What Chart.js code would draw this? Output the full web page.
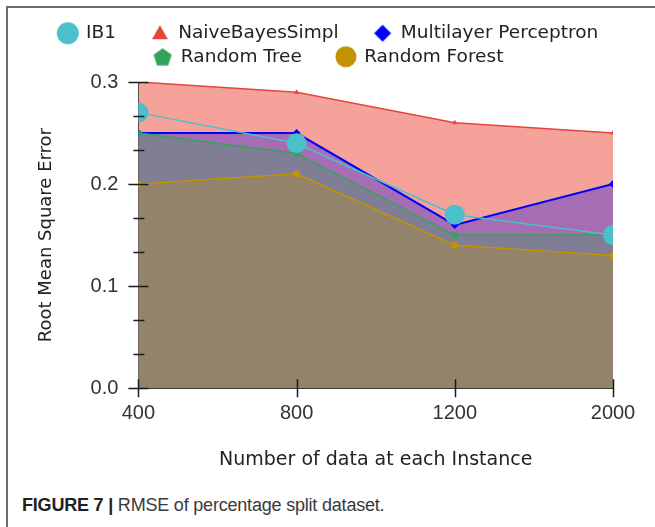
<!DOCTYPE html>
<html>
<head>
<meta charset="utf-8">
<script src="https://cdn.jsdelivr.net/npm/chart.js@4.4.1/dist/chart.umd.min.js"></script>
<style>
  html, body { margin: 0; padding: 0; background: #fff; }
  #frame {
    position: absolute; left: 6px; top: 6px; width: 649px; height: 521px;
    border-top: 2px solid #6e6e6e; border-left: 2px solid #6e6e6e;
  }
  #wrap { position: absolute; left: 8px; top: 8px; width: 647px; height: 470px; }
  #caption {
    position: absolute; left: 22px; top: 495px;
    font-family: "Liberation Sans", Arial, sans-serif; font-size: 18px; color: #3a3a3a;
    letter-spacing: -0.2px;
  }
  #caption b { color: #222; }
</style>
</head>
<body>
<div id="frame"></div>
<div id="wrap"><canvas id="chart"></canvas></div>
<div id="caption"><b>FIGURE 7 |</b> RMSE of percentage split dataset.</div>
<script>
const sizes = ['400', '800', '1200', '2000'];
const ib1 = [0.27, 0.24, 0.17, 0.15];
const naiveBayes = [0.30, 0.29, 0.26, 0.25];
const multilayer = [0.25, 0.25, 0.16, 0.20];
const randomTree = [0.25, 0.23, 0.15, 0.15];
const randomForest = [0.20, 0.21, 0.14, 0.13];
const majorTicks = [0, 0.1, 0.2, 0.3];

const handFont = '"Comic Sans MS", "DejaVu Sans", sans-serif';
const plainFont = '"Liberation Sans", Arial, sans-serif';

// legend markers drawn by hand so their size and the pentagon are right
function marker(kind, color, size) {
    const c = document.createElement('canvas');
    c.width = 56; c.height = 26;
    const g = c.getContext('2d');
    const cx = 43, cy = 13, r = size / 2;
    g.fillStyle = color;
    g.beginPath();
    if (kind === 'circle') {
        g.arc(cx, cy, r, 0, Math.PI * 2);
    } else if (kind === 'triangle') {
        g.moveTo(cx, cy - r); g.lineTo(cx + r, cy + r * 0.75); g.lineTo(cx - r, cy + r * 0.75);
    } else if (kind === 'diamond') {
        g.moveTo(cx, cy - r); g.lineTo(cx + r, cy); g.lineTo(cx, cy + r); g.lineTo(cx - r, cy);
    } else if (kind === 'pentagon') {
        for (let k = 0; k < 5; k++) {
            const a = -Math.PI / 2 + k * 2 * Math.PI / 5;
            g.lineTo(cx + r * Math.cos(a), cy + 1 + r * Math.sin(a));
        }
    }
    g.closePath();
    g.fill();
    return c;
}

function smallPentagon(color) {
    const c = document.createElement('canvas');
    c.width = 8; c.height = 8;
    const g = c.getContext('2d');
    g.fillStyle = color;
    g.beginPath();
    for (let k = 0; k < 5; k++) {
        const a = -Math.PI / 2 + k * 2 * Math.PI / 5;
        g.lineTo(4 + 3.8 * Math.cos(a), 4.4 + 3.8 * Math.sin(a));
    }
    g.closePath();
    g.fill();
    return c;
}

const legendMarkers = [
    marker('circle', '#4bbfca', 22),
    marker('triangle', '#e8453a', 16),
    marker('diamond', '#0000ff', 17),
    marker('pentagon', '#30a55a', 19),
    marker('circle', '#c39200', 21),
];

// legend rows use the whole canvas width (three items on the first row)
// and leave a bit more room under the legend
const legendWide = {
    id: 'legendWide',
    beforeInit(chart) {
        const legend = chart.legend;
        const fit = legend.fit;
        const draw = legend.draw;
        legend.fit = function () {
            this.maxWidth = chart.width - 8;
            fit.call(this);
            this.height += 6;
        };
        legend.draw = function () {
            const l = this.left, r = this.right;
            this.left = 0; this.right = chart.width - 36;
            draw.call(this);
            this.left = l; this.right = r;
        };
    }
};

const crossTicks = {
    id: 'crossTicks',
    afterDatasetsDraw(chart) {
        const ctx = chart.ctx;
        const x = chart.scales.x, y = chart.scales.y;
        const ax = chart.chartArea.left, ay = chart.chartArea.bottom;
        ctx.save();
        ctx.strokeStyle = '#1a1a1a';
        ctx.lineWidth = 1.5;
        ctx.beginPath();
        majorTicks.forEach(v => {
            const py = Math.round(y.getPixelForValue(v)) + 0.5;
            ctx.moveTo(ax - 10, py); ctx.lineTo(ax + 10, py);
        });
        for (let i = 0; i < majorTicks.length - 1; i++) {
            const step = (majorTicks[i + 1] - majorTicks[i]) / 3;
            [1, 2].forEach(k => {
                const py = Math.round(y.getPixelForValue(majorTicks[i] + k * step)) + 0.5;
                ctx.moveTo(ax - 5, py); ctx.lineTo(ax + 6, py);
            });
        }
        sizes.forEach((s, i) => {
            const px = Math.round(x.getPixelForValue(i)) + 0.5;
            ctx.moveTo(px, ay - 9); ctx.lineTo(px, ay + 9);
        });
        ctx.stroke();
        ctx.restore();
    }
};

new Chart(document.getElementById('chart'), {
    type: 'line',
    data: {
        labels: sizes,
        datasets: [
            {
                label: 'IB1', data: ib1, order: 0, fill: false, clip: 0,
                borderColor: '#4bbfca', borderWidth: 1.5,
                pointStyle: 'circle', pointRadius: 10, pointBackgroundColor: '#4bbfca', pointBorderWidth: 0,
            },
            {
                label: 'NaiveBayesSimpl', data: naiveBayes, order: 4, fill: 'origin', clip: 0,
                borderColor: '#e8453a', borderWidth: 1.5, backgroundColor: '#f4a29a',
                pointStyle: 'triangle', pointRadius: 3, pointBackgroundColor: '#e8453a', pointBorderWidth: 0,
            },
            {
                label: 'Multilayer Perceptron', data: multilayer, order: 3, fill: 'origin', clip: 0,
                borderColor: '#0000ff', borderWidth: 2, backgroundColor: '#a66db4',
                pointStyle: 'rectRot', pointRadius: 4, pointBackgroundColor: '#0000ff', pointBorderWidth: 0,
            },
            {
                label: 'Random Tree', data: randomTree, order: 2, fill: 'origin', clip: 0,
                borderColor: '#30a55a', borderWidth: 1.5, backgroundColor: '#807e95',
                pointStyle: smallPentagon('#30a55a'), pointRadius: 4,
            },
            {
                label: 'Random Forest', data: randomForest, order: 1, fill: 'origin', clip: 0,
                borderColor: '#c39200', borderWidth: 1.5, backgroundColor: '#93836a',
                pointStyle: 'circle', pointRadius: 3.5, pointBackgroundColor: '#c39200', pointBorderWidth: 0,
            },
        ]
    },
    options: {
        responsive: true,
        maintainAspectRatio: false,
        animation: false,
        clip: 0,
        layout: { padding: { top: 11, left: 28, right: 42, bottom: 7 } },
        plugins: {
            filler: { drawTime: 'beforeDatasetsDraw' },
            tooltip: { enabled: false },
            legend: {
                position: 'top',
                labels: {
                    usePointStyle: true,
                    pointStyleWidth: 48,
                    padding: 5,
                    color: '#222',
                    font: { family: handFont, size: 18.5 },
                    sort: (a, b) => a.datasetIndex - b.datasetIndex,
                    generateLabels(chart) {
                        const items = Chart.defaults.plugins.legend.labels.generateLabels(chart);
                        items.forEach(it => { it.pointStyle = legendMarkers[it.datasetIndex]; it.lineWidth = 0; });
                        return items;
                    }
                }
            }
        },
        scales: {
            x: {
                offset: false,
                grid: { display: false },
                border: { display: true, color: '#333', width: 1 },
                ticks: { color: '#333', padding: 5, font: { family: plainFont, size: 20 } },
                title: {
                    display: true, text: 'Number of data at each Instance', color: '#222',
                    font: { family: handFont, size: 19 }, padding: { top: 18, bottom: 0 }
                }
            },
            y: {
                min: 0, max: 0.3,
                grid: { display: false },
                border: { display: true, color: '#333', width: 1 },
                ticks: {
                    stepSize: 0.1, color: '#333', padding: 12,
                    font: { family: plainFont, size: 20 },
                    callback: v => v.toFixed(1)
                },
                title: {
                    display: true, text: 'Root Mean Square Error', color: '#222',
                    font: { family: handFont, size: 18 }, padding: { top: 0, bottom: 21 }
                }
            }
        }
    },
    plugins: [legendWide, crossTicks]
});
</script>
</body>
</html>
